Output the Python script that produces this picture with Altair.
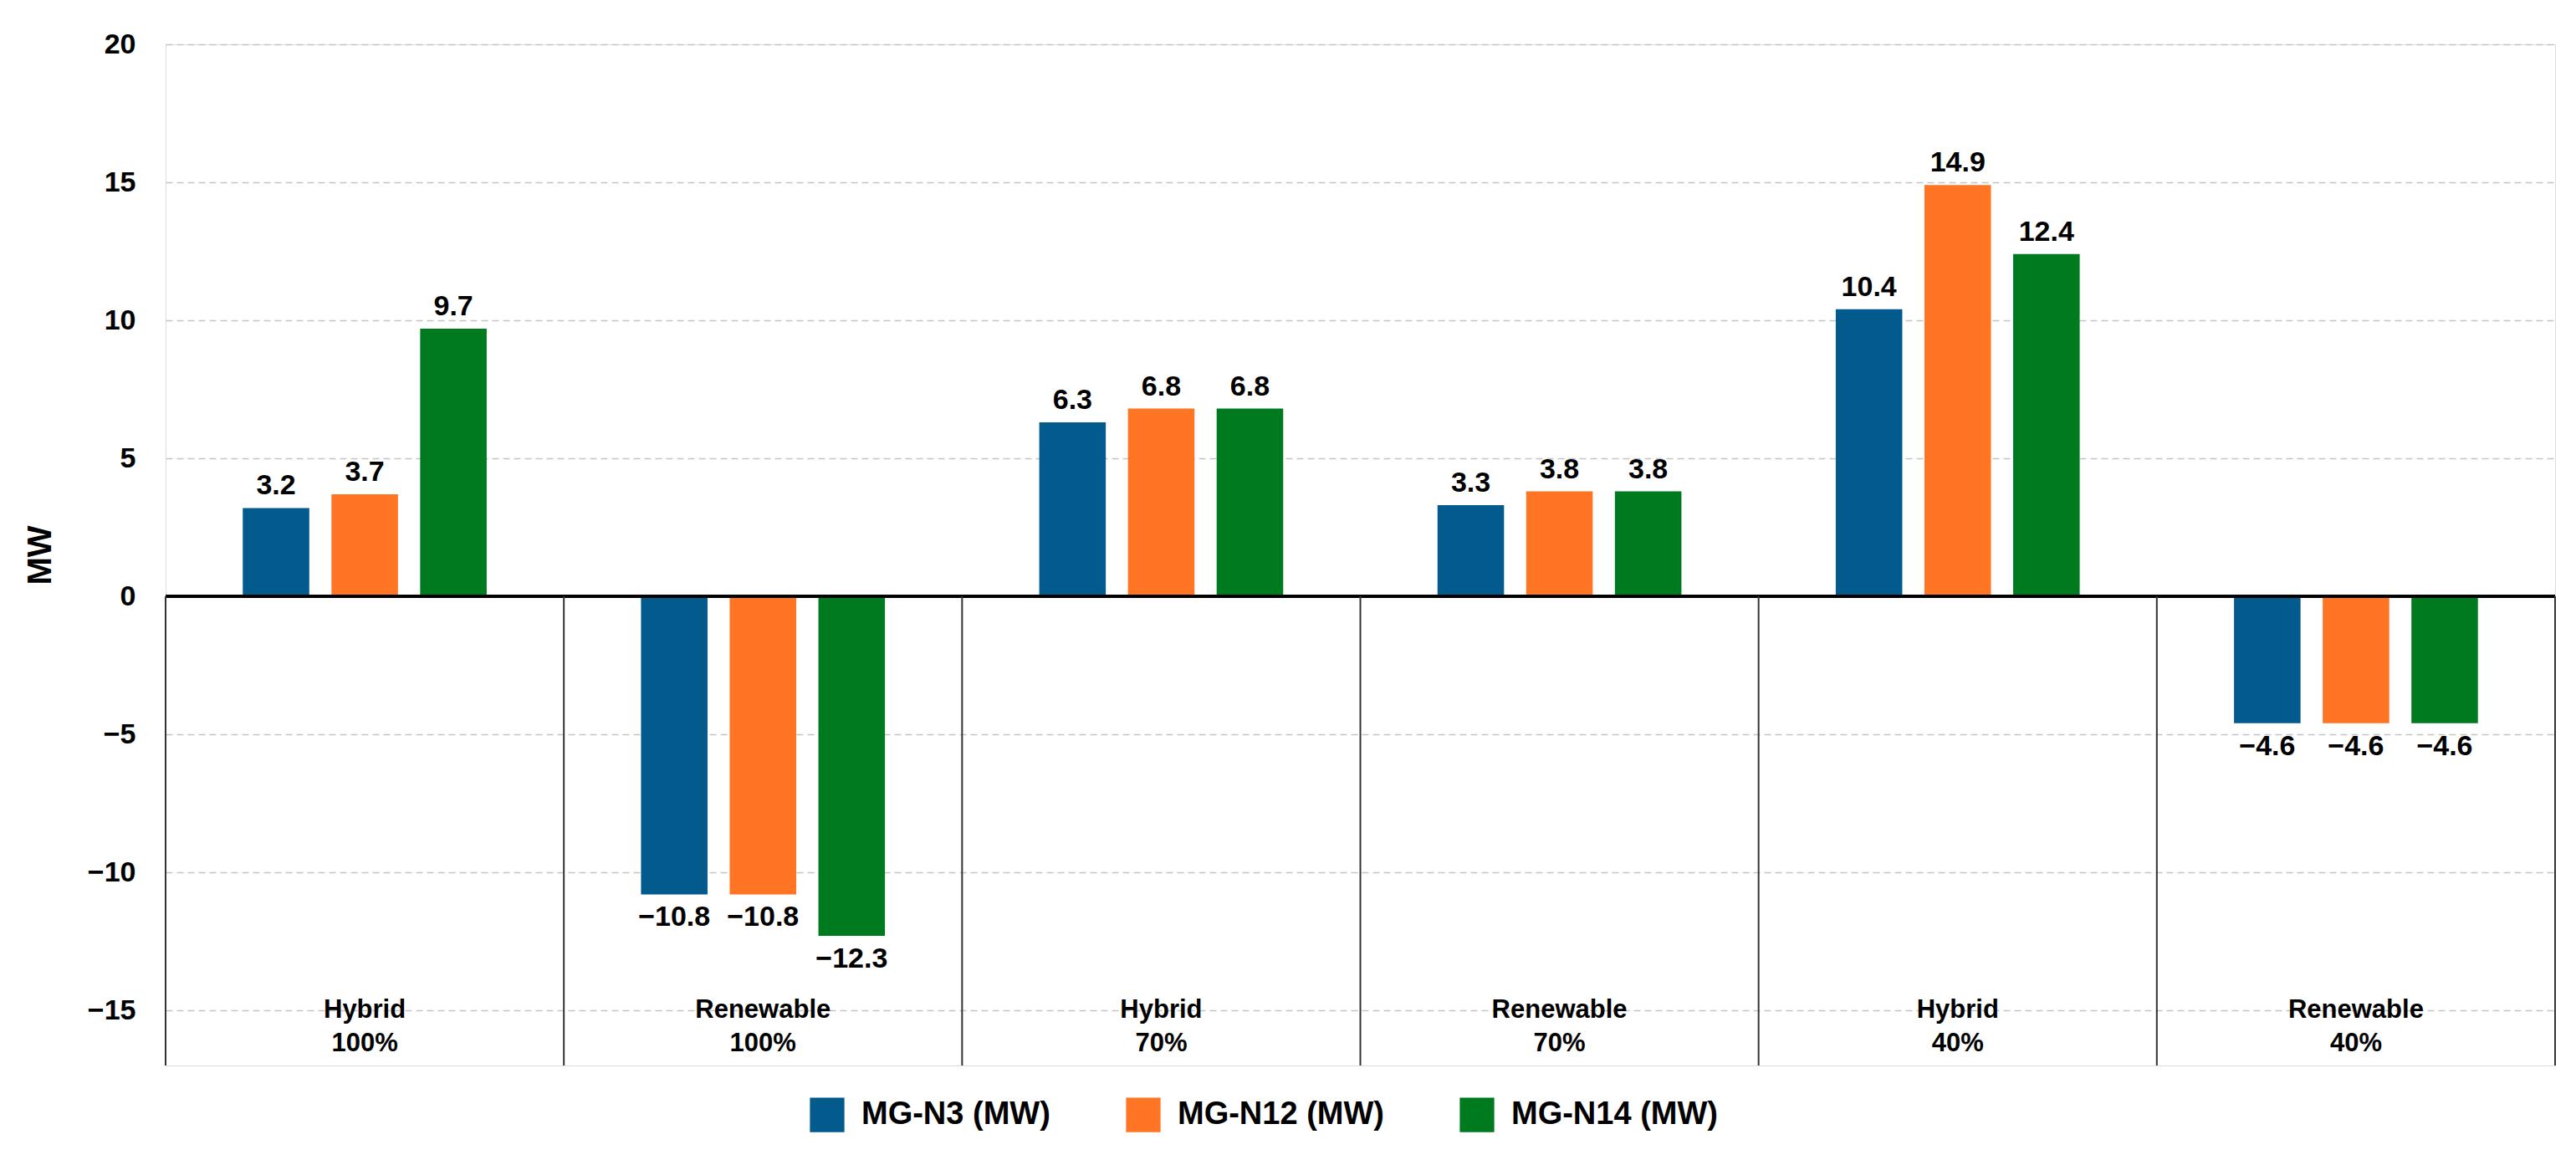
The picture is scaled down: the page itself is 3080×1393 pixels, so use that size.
import altair as alt
import pandas as pd

categories = ["Hybrid 100%", "Renewable 100%", "Hybrid 70%", "Renewable 70%", "Hybrid 40%", "Renewable 40%"]
line1 = ["Hybrid", "Renewable", "Hybrid", "Renewable", "Hybrid", "Renewable"]
line2 = ["100%", "100%", "70%", "70%", "40%", "40%"]
series = ["MG-N3 (MW)", "MG-N12 (MW)", "MG-N14 (MW)"]
mg_n3 = [3.2, -10.8, 6.3, 3.3, 10.4, -4.6]
mg_n12 = [3.7, -10.8, 6.8, 3.8, 14.9, -4.6]
mg_n14 = [9.7, -12.3, 6.8, 3.8, 12.4, -4.6]
colors = ["#035A8C", "#FF7524", "#007A1F"]

rows = []
for s, vals in zip(series, [mg_n3, mg_n12, mg_n14]):
    for c, v in zip(categories, vals):
        rows.append({"cat": c, "series": s, "value": v,
                     "label": f"{v:.1f}".replace("-", "\u2212")})
df = pd.DataFrame(rows)
cats = pd.DataFrame({"cat": categories, "l1": line1, "l2": line2})

W, H = 2857, 1221
FONT = "Liberation Sans"
ydom = alt.Scale(domain=[-17, 20], nice=False, zero=False)
xsc = alt.Scale(domain=categories, paddingInner=0, paddingOuter=0)
xnone = alt.X("cat:N", scale=xsc, axis=None)

base = alt.Chart(df)
bars = base.mark_bar().encode(
    x=xnone,
    xOffset=alt.XOffset("series:N", sort=series,
                        scale=alt.Scale(paddingInner=0.25, paddingOuter=0.87)),
    y=alt.Y("value:Q", scale=ydom, title="MW",
            axis=alt.Axis(values=[-15, -10, -5, 0, 5, 10, 15, 20], grid=True,
                          gridDash=[8, 5], gridColor="#c4c4c4", gridWidth=1.5, domain=False,
                          ticks=False, labelFontSize=34, labelFont=FONT,
                          labelFontWeight="bold", labelColor="black", labelPadding=36,
                          titleFontSize=40, titleFont=FONT, titleFontWeight="bold",
                          titleColor="black", titlePadding=36)),
    color=alt.Color("series:N", sort=series, scale=alt.Scale(domain=series, range=colors),
                    legend=alt.Legend(orient="none", legendX=770, legendY=H + 38,
                                      direction="horizontal", title=None, symbolType="square",
                                      symbolSize=1700, symbolStrokeWidth=0,
                                      labelFontSize=38, labelFont=FONT, labelLimit=0,
                                      labelFontWeight="bold", labelColor="black",
                                      columnPadding=90, labelOffset=20)),
)
pos = base.transform_filter("datum.value >= 0").mark_text(
    dy=-26, fontSize=34, font=FONT, fontWeight="bold", color="black").encode(
    x=xnone, xOffset=alt.XOffset("series:N", sort=series), y=alt.Y("value:Q", scale=ydom),
    text="label:N")
neg = base.transform_filter("datum.value < 0").mark_text(
    dy=28, fontSize=34, font=FONT, fontWeight="bold", color="black").encode(
    x=xnone, xOffset=alt.XOffset("series:N", sort=series), y=alt.Y("value:Q", scale=ydom),
    text="label:N")

cbase = alt.Chart(cats)
seps = cbase.mark_rule(color="#333333", strokeWidth=2).encode(
    x=alt.X("cat:N", scale=xsc, axis=None, bandPosition=0),
    y=alt.datum(0, scale=ydom), y2=alt.datum(-17))
right = cbase.mark_rule(color="#333333", strokeWidth=2).encode(
    x=alt.value(W), y=alt.datum(0, scale=ydom), y2=alt.datum(-17))
zero = cbase.mark_rule(color="black", strokeWidth=3).encode(
    x=alt.value(0), x2=alt.value(W), y=alt.datum(0, scale=ydom))
t1 = cbase.mark_text(fontSize=31, font=FONT, fontWeight="bold", color="black").encode(
    x=xnone, y=alt.datum(-15, scale=ydom), text="l1:N")
t2 = cbase.mark_text(fontSize=31, font=FONT, fontWeight="bold", color="black").encode(
    x=xnone, y=alt.datum(-16.2, scale=ydom), text="l2:N")

chart = alt.layer(bars, zero, seps, right, pos, neg, t1, t2).properties(
    width=W, height=H, padding={"top": 28, "left": 20, "right": 12, "bottom": 20}
).configure_view(stroke=None).configure(background="white")

chart.save("out.html", embed_options={"renderer": "svg", "actions": False})
